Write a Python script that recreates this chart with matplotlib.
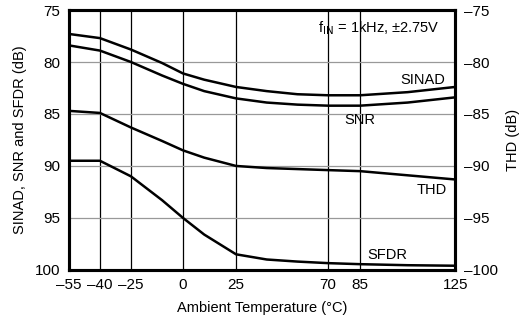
import matplotlib
matplotlib.use('Agg')
import matplotlib.pyplot as plt
import numpy as np

plt.rcParams['font.family'] = ['Liberation Sans', 'DejaVu Sans']

# temperature points (deg C)
temp = [-55, -40, -25, -10, 0, 10, 25, 40, 55, 70, 85, 105, 125]
sinad = [77.3, 77.7, 78.8, 80.1, 81.1, 81.7, 82.4, 82.8, 83.1, 83.2, 83.2, 82.9, 82.4]
snr = [78.4, 78.9, 80.0, 81.3, 82.1, 82.8, 83.5, 83.9, 84.1, 84.2, 84.2, 83.9, 83.4]
sfdr = [89.5, 89.5, 91.0, 93.3, 95.0, 96.6, 98.5, 99.0, 99.2, 99.35, 99.45, 99.55, 99.6]
thd = [-84.7, -84.9, -86.3, -87.6, -88.5, -89.2, -90.0, -90.2, -90.3, -90.4, -90.5, -90.9, -91.3]

xticks = [-55, -40, -25, 0, 25, 70, 85, 125]
lticks = [75, 80, 85, 90, 95, 100]
rticks = [-75, -80, -85, -90, -95, -100]

# the printed temperature axis is not quite linear; map ticks to where they sit
tick_pos = [0, 31, 62, 114, 167, 259, 291, 386]

def fwd(x):
    return np.interp(x, xticks, tick_pos)

def inv(p):
    return np.interp(p, tick_pos, xticks)

fig = plt.figure(figsize=(5.22, 3.24), dpi=100)
ax = fig.add_axes([0.132, 0.167, 0.740, 0.802])
ax2 = ax.twinx()

ax.set_xscale('function', functions=(fwd, inv))
ax.set_xlim(-55, 125)
ax.set_ylim(100, 75)
ax2.set_ylim(-100, -75)

ax.set_xticks(xticks)
ax.set_yticks(lticks)
ax2.set_yticks(rticks)
ax.set_xticklabels([str(t).replace('-', '\u2013') for t in xticks])
ax.set_yticklabels([str(t) for t in lticks])
ax2.set_yticklabels([str(t).replace('-', '\u2013') for t in rticks])
ax.xaxis.set_minor_locator(plt.NullLocator())

for t in xticks[1:-1]:
    ax.axvline(t, color='black', lw=0.9, zorder=1)
for t in lticks[1:-1]:
    ax.axhline(t, color='#999999', lw=0.9, zorder=1)

lw = 1.8
ax.plot(temp, sinad, color='black', lw=lw, zorder=3)
ax.plot(temp, snr, color='black', lw=lw, zorder=3)
ax.plot(temp, sfdr, color='black', lw=lw, zorder=3)
ax2.plot(temp, thd, color='black', lw=lw, zorder=3)

for a in (ax, ax2):
    for s in a.spines.values():
        s.set_linewidth(2.2)
    a.tick_params(length=0, labelsize=11, pad=6)

ax.set_xlabel('Ambient Temperature (\u00b0C)', fontsize=10.5, labelpad=6)
ax.set_ylabel('SINAD, SNR and SFDR (dB)', fontsize=10.5, labelpad=6)
ax2.set_ylabel('THD (dB)', fontsize=10.5, labelpad=6)

tr = ax.transAxes
ax.text(0.961, 0.931, 'f$_{\\mathrm{IN}}$ = 1kHz, \u00b12.75V', transform=tr,
        ha='right', va='center', fontsize=10.5)
ax.text(0.974, 0.731, 'SINAD', transform=tr, ha='right', va='center', fontsize=10.5)
ax.text(0.793, 0.577, 'SNR', transform=tr, ha='right', va='center', fontsize=10.5)
ax.text(0.979, 0.308, 'THD', transform=tr, ha='right', va='center', fontsize=10.5)
ax.text(0.876, 0.058, 'SFDR', transform=tr, ha='right', va='center', fontsize=10.5)

plt.savefig('out.png', dpi=100)
